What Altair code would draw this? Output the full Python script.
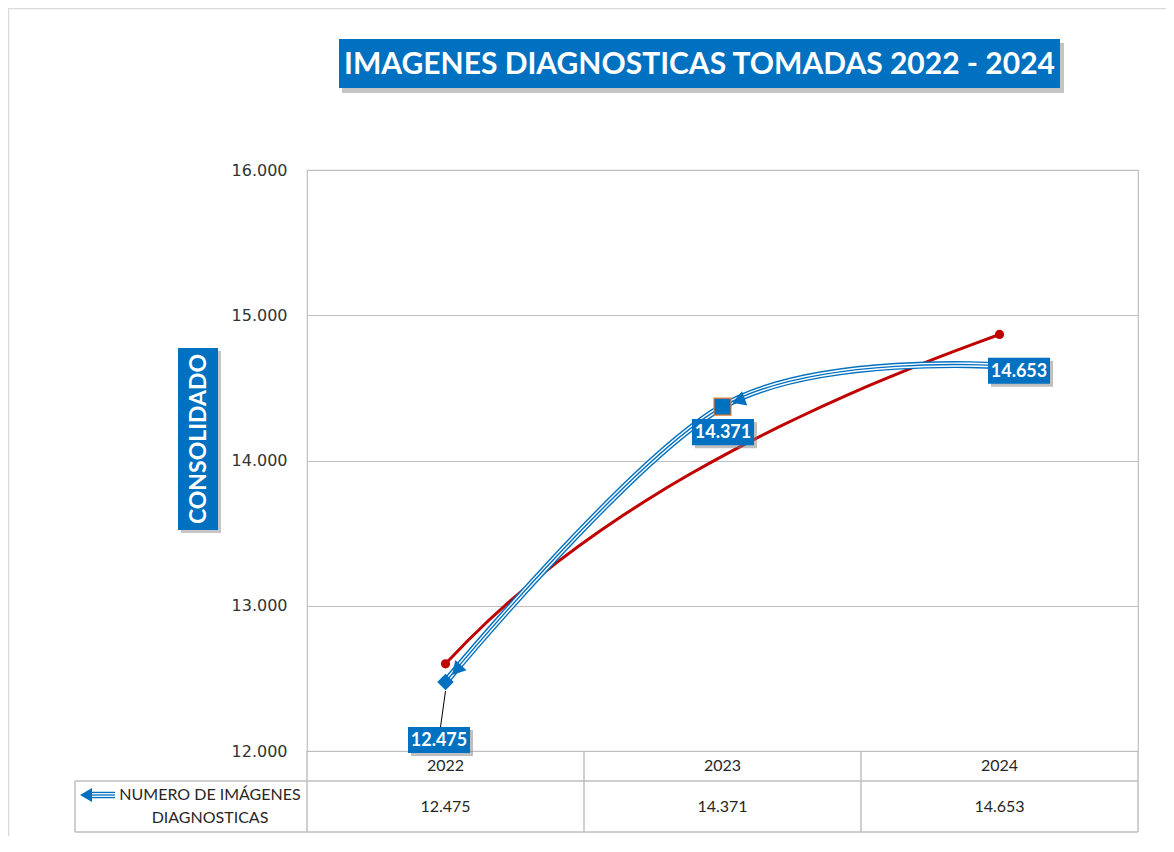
import altair as alt
import pandas as pd

# ---------------- data ----------------
years = [2022, 2023, 2024]
values = [12475, 14371, 14653]
index = [1, 2, 3]
y_ticks = [12000, 13000, 14000, 15000, 16000]
title_text = "IMAGENES DIAGNOSTICAS TOMADAS 2022 - 2024"
y_title_text = "CONSOLIDADO"
legend_lines = ["NUMERO DE IMÁGENES", "DIAGNOSTICAS"]

# ---------------- style ----------------
BLUE = "#0070C0"
RED = "#C00000"
GRID = "#BFBFBF"
TXT = "#262626"
FONT = "Lato"
FMT = "replace(format(datum.value, ','), ',', '.')"

df = pd.DataFrame({"year": years, "value": values, "idx": index})
base = alt.Chart(df)
one = alt.Data(values=[{"k": 1}])

x = alt.X("year:Q", scale=alt.Scale(domain=[2021.5, 2024.5], nice=False, zero=False), axis=None)
y = alt.Y(
    "value:Q",
    scale=alt.Scale(domain=[12000, 16000], nice=False, zero=False),
    axis=alt.Axis(values=y_ticks, title=None, labelExpr=FMT, grid=True, ticks=False,
                  domain=False, labelPadding=20, labelFont="DejaVu Sans",
                  labelFontSize=16, labelColor="#333333", gridColor=GRID),
)

layers = []

# outer frame
layers.append(alt.Chart(one).mark_rect(fill="white", fillOpacity=0, stroke="#D9D9D9", strokeWidth=1.5).encode(
    x=alt.value(-298.5), x2=alt.value(900), y=alt.value(-161.5), y2=alt.value(700)))

# title box
layers.append(alt.Chart(one).mark_rect(color="#8c8c8c", opacity=0.5).encode(
    x=alt.value(35), x2=alt.value(757), y=alt.value(-127), y2=alt.value(-77)))
layers.append(alt.Chart(one).mark_rect(color=BLUE).encode(
    x=alt.value(32), x2=alt.value(753), y=alt.value(-131), y2=alt.value(-82)))
layers.append(alt.Chart(one).mark_text(text=title_text, font=FONT, fontWeight="bold", fontSize=30,
                                        color="white", align="center", baseline="middle").encode(
    x=alt.value(392.5), y=alt.value(-105)))

# y title box
layers.append(alt.Chart(one).mark_rect(color="#8c8c8c", opacity=0.5).encode(
    x=alt.value(-126), x2=alt.value(-86), y=alt.value(181), y2=alt.value(363)))
layers.append(alt.Chart(one).mark_rect(color=BLUE).encode(
    x=alt.value(-129), x2=alt.value(-89), y=alt.value(178), y2=alt.value(360)))
layers.append(alt.Chart(one).mark_text(text=y_title_text, font=FONT, fontWeight="bold", fontSize=23,
                                        color="white", align="center", baseline="middle", angle=270).encode(
    x=alt.value(-108), y=alt.value(269)))

# table lines
for yy in (611, 662):
    layers.append(alt.Chart(one).mark_rule(color=GRID, strokeWidth=1.5).encode(
        x=alt.value(-232), x2=alt.value(831), y=alt.value(yy)))
layers.append(alt.Chart(one).mark_rule(color=GRID, strokeWidth=1.5).encode(
    x=alt.value(-232), y=alt.value(611), y2=alt.value(662)))
edge_x = alt.X("edge:Q", scale=alt.Scale(domain=[2021.5, 2024.5], nice=False, zero=False), axis=None)
layers.append(base.transform_calculate(edge="datum.year - 0.5").mark_rule(color=GRID, strokeWidth=1.5).encode(
    x=edge_x, y=alt.value(581), y2=alt.value(662)))
layers.append(base.transform_filter("datum.year == 2024").transform_calculate(edge="datum.year + 0.5")
              .mark_rule(color=GRID, strokeWidth=1.5).encode(x=edge_x, y=alt.value(581), y2=alt.value(662)))

# table text
layers.append(base.mark_text(font=FONT, fontSize=16, color=TXT, baseline="middle").encode(
    x=x, y=alt.value(596), text=alt.Text("year:Q", format="d")))
layers.append(base.transform_calculate(lab=FMT).mark_text(font=FONT, fontSize=16, color=TXT, baseline="middle").encode(
    x=x, y=alt.value(637), text="lab:N"))
for i, line in enumerate(legend_lines):
    layers.append(alt.Chart(one).mark_text(text=line, font=FONT, fontSize=16, color=TXT,
                                            align="center", baseline="middle").encode(
        x=alt.value(-97), y=alt.value(625 + 23 * i)))

# legend icon
for w, c in ((6.5, BLUE), (3.8, "white"), (1.3, BLUE)):
    layers.append(alt.Chart(one).mark_rule(color=c, strokeWidth=w).encode(
        x=alt.value(-217), x2=alt.value(-192), y=alt.value(625)))
layers.append(alt.Chart(one).mark_point(shape="triangle-left", size=190, filled=True, color=BLUE, opacity=1).encode(
    x=alt.value(-221), y=alt.value(625)))

# trend line (logarithmic)
trend = base.transform_regression("idx", "value", method="log", extent=[1, 3]).transform_calculate(
    year="datum.idx + 2021")
layers.append(trend.mark_line(color=RED, strokeWidth=3).encode(x=x, y=y))
layers.append(trend.transform_filter("datum.idx < 1.0001 || datum.idx > 2.9999").mark_point(
    shape="circle", size=85, filled=True, color=RED, opacity=1).encode(x=x, y=y))

# main series: compound line
for w, c in ((7, BLUE), (4.2, "white"), (1.4, BLUE)):
    layers.append(base.mark_line(interpolate="cardinal", color=c, strokeWidth=w).encode(x=x, y=y))

# arrowheads
for yr, ang, dx, dy in ((2022, 222, 11, -12), (2023, 250, 16, -6)):
    layers.append(base.transform_filter(f"datum.year == {yr}").mark_point(
        shape="triangle-up", size=230, filled=True, color=BLUE, opacity=1, angle=ang,
        xOffset=dx, yOffset=dy).encode(x=x, y=y))

# markers
layers.append(base.transform_filter("datum.year == 2022").mark_point(
    shape="diamond", size=270, filled=True, color=BLUE, opacity=1).encode(x=x, y=y))
layers.append(base.transform_filter("datum.year == 2023").mark_point(
    shape="square", size=290, filled=True, fill=BLUE, stroke="#ED7D31", strokeWidth=1.2, opacity=1).encode(x=x, y=y))

# leader line for 2022 label
layers.append(base.transform_filter("datum.year == 2022").mark_rule(
    color="black", strokeWidth=1, yOffset=9, y2Offset=45, x2Offset=-5).encode(
    x=x, y=y, x2="year:Q", y2="value:Q"))

# data labels
BOX = "M-1,-0.42L1,-0.42L1,0.42L-1,0.42Z"
for yr, dx, dy in ((2022, -6.5, 58), (2023, 0.5, 25.5), (2024, 19.5, 5)):
    sub = base.transform_filter(f"datum.year == {yr}")
    layers.append(sub.mark_point(shape=BOX, size=3844, filled=True, color="#7f7f7f", opacity=0.5,
                                 xOffset=dx + 3, yOffset=dy + 3).encode(x=x, y=y))
    layers.append(sub.mark_point(shape=BOX, size=3844, filled=True, color=BLUE, opacity=1,
                                 xOffset=dx, yOffset=dy).encode(x=x, y=y))
    layers.append(sub.transform_calculate(lab=FMT).mark_text(
        font=FONT, fontWeight="bold", fontSize=18, color="white", align="center", baseline="middle",
        xOffset=dx, yOffset=dy + 1).encode(x=x, y=y, text="lab:N"))

chart = alt.layer(*layers).properties(
    width=831, height=581,
    padding={"left": 299, "top": 162, "right": 28, "bottom": 85},
    autosize=alt.AutoSizeParams(type="none"),
    background="white",
).configure_view(stroke=GRID, strokeWidth=1.2)

chart.save("out.html", embed_options={"renderer": "svg", "actions": False})
